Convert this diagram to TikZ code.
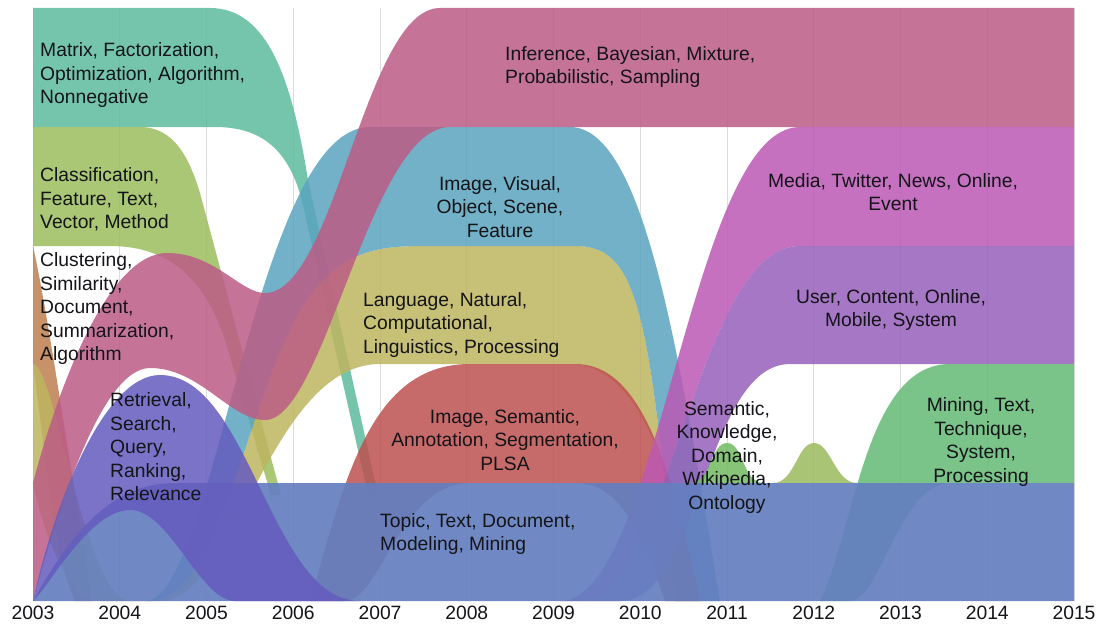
\documentclass[tikz,border=0pt]{standalone}
\usepackage{fontspec}
\setmainfont{Liberation Sans}
\definecolor{cMat}{RGB}{92,188,157}
\definecolor{cCls}{RGB}{154,190,94}
\definecolor{cClu}{RGB}{190,126,79}
\definecolor{cLang}{RGB}{190,181,96}
\definecolor{cVis}{RGB}{90,164,190}
\definecolor{cInf}{RGB}{188,92,134}
\definecolor{cSem}{RGB}{190,80,80}
\definecolor{cMed}{RGB}{188,89,181}
\definecolor{cUsr}{RGB}{150,96,186}
\definecolor{cMin}{RGB}{99,186,117}
\definecolor{cBA}{RGB}{115,186,96}
\definecolor{cBB}{RGB}{155,186,94}
\definecolor{cTop}{RGB}{100,127,192}
\definecolor{cRet}{RGB}{101,91,190}
\definecolor{cTxt}{RGB}{20,20,25}
\definecolor{cGrid}{RGB}{220,220,220}
\newcommand\lblfont{\fontsize{19.3}{23.6}\selectfont}
\newcommand\lbl[1]{\begin{tabular}[t]{@{}l@{}}#1\end{tabular}}
\newcommand\lblc[1]{\begin{tabular}[t]{@{}c@{}}#1\end{tabular}}
\tikzset{
  band/.style={fill=#1, fill opacity=0.85, draw=none},
  gridline/.style={draw=cGrid, line width=1pt},
  every node/.style={font=\lblfont, inner sep=0pt, text=cTxt},
}
\begin{document}
\begin{tikzpicture}[x=1pt,y=-1pt]
\useasboundingbox (0,0) rectangle (1099,626);
\fill[white] (0,0) rectangle (1099,626);
% grid
\foreach \i in {0,...,12}{
  \draw[gridline] ({33+86.75*\i},8) -- ({33+86.75*\i},601);
}
% Matrix
\fill[band=cMat] (33,8) -- (210,8) .. controls (268,8) and (292,80) .. (308,180) -- (378,495) -- (368,495) -- (303,205) .. controls (290,150) and (262,127) .. (215,127) -- (33,127) -- cycle;
% Classification
\fill[band=cCls] (33,127) -- (140,127) .. controls (175,127) and (190,160) .. (200,193) -- (281,495) -- (271,495) -- (225,340) .. controls (205,280) and (170,246) .. (110,246) -- (33,246) -- cycle;
% Clustering
\fill[band=cClu] (33,246) .. controls (45,300) and (60,400) .. (92,601) -- (75,601) .. controls (55,560) and (45,450) .. (33,364) -- cycle;
% Language
\fill[band=cLang] (33,364) .. controls (55,364) and (85,601) .. (130,601) -- (150,601) .. controls (215,601) and (245,420) .. (290,330) .. controls (330,246) and (380,246) .. (430,246) -- (575,246) .. controls (635,246) and (650,300) .. (675,601) -- (700,601) .. controls (665,430) and (625,364) .. (570,364) -- (380,364) .. controls (270,364) and (235,601) .. (160,601) -- (100,601) .. controls (70,601) and (45,540) .. (33,483) -- cycle;
% Image Visual
\fill[band=cVis] (145,601) .. controls (215,601) and (255,127) .. (370,127) -- (570,127) .. controls (645,127) and (680,360) .. (720,601) -- (675,601) .. controls (650,300) and (635,246) .. (575,246) -- (430,246) .. controls (380,246) and (330,246) .. (290,330) .. controls (245,420) and (215,601) .. (150,601) -- cycle;
% Inference
\fill[band=cInf] (33,483) .. controls (60,380) and (110,253) .. (167,253) .. controls (215,253) and (240,293) .. (265,293) .. controls (335,293) and (365,8) .. (440,8) -- (1074,8) -- (1074,127) -- (450,127) .. controls (370,127) and (325,420) .. (265,420) .. controls (230,420) and (200,368) .. (150,368) .. controls (100,368) and (55,520) .. (33,601) -- cycle;
% Image Semantic
\fill[band=cSem] (310,601) .. controls (345,480) and (370,364) .. (470,364) -- (575,364) .. controls (630,364) and (665,430) .. (700,601) -- (665,601) .. controls (640,530) and (620,483) .. (575,483) -- (470,483) .. controls (400,483) and (380,601) .. (345,601) -- cycle;
% Media
\fill[band=cMed] (560,601) .. controls (660,601) and (690,127) .. (800,127) -- (1074,127) -- (1074,246) -- (800,246) .. controls (695,246) and (670,601) .. (580,601) -- cycle;
% User
\fill[band=cUsr] (580,601) .. controls (670,601) and (695,246) .. (800,246) -- (1074,246) -- (1074,364) -- (790,364) .. controls (705,364) and (700,601) .. (620,601) -- cycle;
% Mining
\fill[band=cMin] (820,601) .. controls (855,530) and (865,364) .. (950,364) -- (1074,364) -- (1074,483) -- (950,483) .. controls (900,483) and (880,601) .. (850,601) -- cycle;
% bumps
\fill[band=cBA] (690,483) .. controls (712,483) and (710,443) .. (727,443) .. controls (744,443) and (742,483) .. (764,483) -- cycle;
\fill[band=cBB] (773,483) .. controls (795,483) and (797,443) .. (814,443) .. controls (831,443) and (835,483) .. (857,483) -- cycle;
% Topic
\fill[band=cTop, fill opacity=0.92] (33,601) .. controls (70,535) and (110,483) .. (175,483) -- (1074,483) -- (1074,601) -- cycle;
% Retrieval
\fill[band=cRet] (33,601) .. controls (55,500) and (105,375) .. (160,375) .. controls (250,375) and (270,601) .. (360,601) -- (235,601) .. controls (200,601) and (170,510) .. (130,510) .. controls (90,510) and (50,585) .. (33,601) -- cycle;
% labels
\node[anchor=base west] (lMat) at (40,56.5) {\lbl{Matrix, Factorization,\\Optimization, Algorithm,\\Nonnegative}};
\node[anchor=base west] (lCls) at (40,181.5) {\lbl{Classification,\\Feature, Text,\\Vector, Method}};
\node[anchor=base west] (lClu) at (40,266.5) {\lbl{Clustering,\\Similarity,\\Document,\\Summarization,\\Algorithm}};
\node[anchor=base west] (lRet) at (110,406.5) {\lbl{Retrieval,\\Search,\\Query,\\Ranking,\\Relevance}};
\node[anchor=base west] (lInf) at (505,60) {\lbl{Inference, Bayesian, Mixture,\\Probabilistic, Sampling}};
\node[anchor=base] (lVis) at (500,190) {\lblc{Image, Visual,\\Object, Scene,\\Feature}};
\node[anchor=base west] (lLang) at (363,306) {\lbl{Language, Natural,\\Computational,\\Linguistics, Processing}};
\node[anchor=base] (lSem) at (505,423) {\lblc{Image, Semantic,\\Annotation, Segmentation,\\PLSA}};
\node[anchor=base west] (lTop) at (380,527) {\lbl{Topic, Text, Document,\\Modeling, Mining}};
\node[anchor=base] (lMed) at (893,187) {\lblc{Media, Twitter, News, Online,\\Event}};
\node[anchor=base] (lUsr) at (891,303) {\lblc{User, Content, Online,\\Mobile, System}};
\node[anchor=base] (lKno) at (727,415) {\lblc{Semantic,\\Knowledge,\\Domain,\\Wikipedia,\\Ontology}};
\node[anchor=base] (lMin) at (981,411.5) {\lblc{Mining, Text,\\Technique,\\System,\\Processing}};
% years
\foreach \i in {0,...,12}{
  \node[anchor=base] (yr\i) at ({33+86.75*\i},619) {\the\numexpr2003+\i\relax};
}
\end{tikzpicture}
\end{document}
